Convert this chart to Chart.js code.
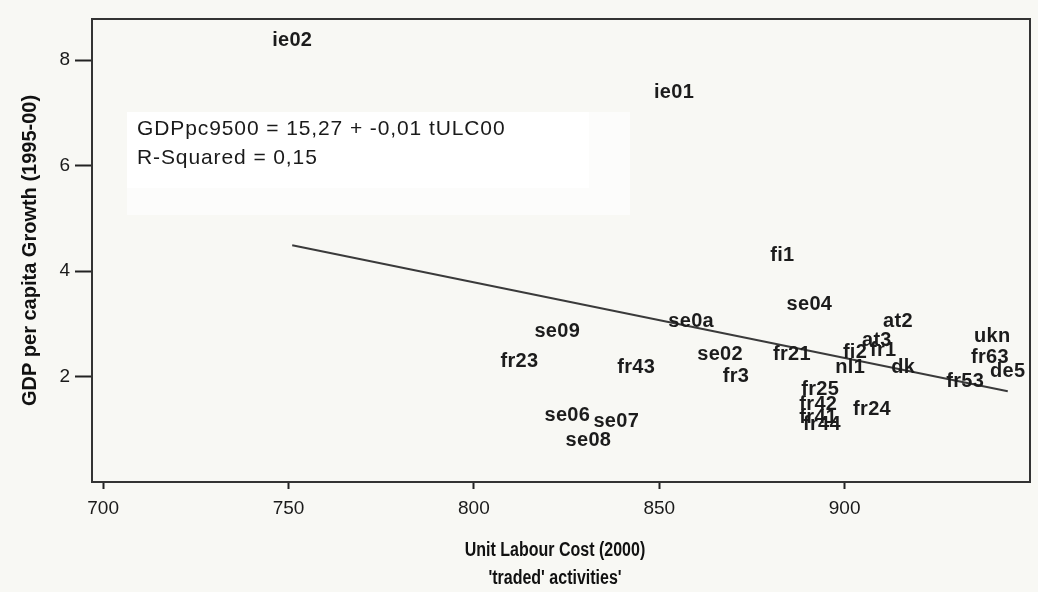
<!DOCTYPE html>
<html>
<head>
<meta charset="utf-8">
<script src="https://cdn.jsdelivr.net/npm/chart.js@4.4.0/dist/chart.umd.min.js"></script>
<style>
  html, body { margin: 0; padding: 0; background: #f8f8f4; }
  #wrap { width: 1038px; height: 592px; }
</style>
</head>
<body>
<div id="wrap"><canvas id="c" width="1038" height="592"></canvas></div>
<script>
// ---- data ----
const categories = ['ie02','ie01','fi1','se04','se0a','se09','fr23','fr43','se02','fr3',
  'se06','se07','se08','fr21','at2','at3','fi2','fr1','nl1','dk','fr53','ukn','fr63','de5',
  'fr25','fr42','fr24','fr41','fr44'];
const ulc = [751, 854, 883.2, 890.5, 858.6, 822.5, 812.3, 843.8, 866.4, 870.7,
  825.2, 838.4, 830.9, 885.8, 914.4, 908.7, 902.8, 910.4, 901.5, 915.8, 932.5, 939.8, 939.2, 944,
  893.4, 892.9, 907.4, 892.9, 893.9];
const gdp = [8.38, 7.39, 4.30, 3.36, 3.05, 2.85, 2.28, 2.17, 2.41, 2.00,
  1.26, 1.14, 0.78, 2.41, 3.04, 2.68, 2.45, 2.49, 2.17, 2.17, 1.90, 2.75, 2.37, 2.09,
  1.75, 1.47, 1.37, 1.22, 1.10];
const fitX = [751, 944];
const fitY = [4.49, 1.72];
const xTickValues = [700, 750, 800, 850, 900];
const yTickValues = [2, 4, 6, 8];
const xTitleLines = ['Unit Labour Cost (2000)', "'traded' activities'"];
const yTitle = 'GDP per capita Growth (1995-00)';
const fitLines = ['GDPpc9500 = 15,27 + -0,01 tULC00', 'R-Squared = 0,15'];

const FONT = "'Liberation Sans', Arial, sans-serif";

const decor = {
  id: 'decor',
  beforeDraw(chart) {
    const ctx = chart.ctx;
    ctx.save();
    ctx.fillStyle = '#f8f8f4';
    ctx.fillRect(0, 0, chart.width, chart.height);
    const a = chart.chartArea;
    // annotation box (SPSS fit line text)
    ctx.fillStyle = '#fcfcfb';
    ctx.fillRect(a.left + 35, a.top + 93, 503, 103);
    ctx.fillStyle = '#ffffff';
    ctx.fillRect(a.left + 35, a.top + 93, 462, 76);
    ctx.fillStyle = '#1a1a1a';
    ctx.font = '21px ' + FONT;
    ctx.letterSpacing = '0.9px';
    ctx.textAlign = 'left';
    ctx.textBaseline = 'middle';
    ctx.fillText(fitLines[0], a.left + 45, a.top + 110);
    ctx.fillText(fitLines[1], a.left + 45, a.top + 139);
    ctx.restore();
  },
  afterDatasetsDraw(chart) {
    const ctx = chart.ctx;
    const a = chart.chartArea;
    ctx.save();
    // point labels
    const meta = chart.getDatasetMeta(0);
    ctx.fillStyle = '#1c1c1c';
    ctx.font = 'bold 20px ' + FONT;
    ctx.letterSpacing = '0.3px';
    ctx.textAlign = 'center';
    ctx.textBaseline = 'middle';
    meta.data.forEach((el, i) => {
      ctx.fillText(categories[i], el.x, el.y);
    });
    ctx.letterSpacing = '0px';
    // plot frame
    ctx.strokeStyle = '#333333';
    ctx.lineWidth = 2;
    ctx.strokeRect(a.left, a.top, a.right - a.left, a.bottom - a.top);
    // axis titles
    ctx.fillStyle = '#111111';
    ctx.font = 'bold 20px ' + FONT;
    ctx.textAlign = 'center';
    ctx.textBaseline = 'middle';
    const cx = (a.left + a.right) / 2;
    ctx.save();
    ctx.translate(cx - 6, 0);
    ctx.scale(0.8, 1);
    ctx.fillText(xTitleLines[0], 0, 550);
    ctx.fillText(xTitleLines[1], 0, 578);
    ctx.restore();
    ctx.translate(30, (a.top + a.bottom) / 2);
    ctx.rotate(-Math.PI / 2);
    ctx.fillText(yTitle, 0, 0);
    ctx.restore();
  }
};

new Chart(document.getElementById('c'), {
  type: 'scatter',
  data: {
    datasets: [
      {
        label: 'regions',
        data: ulc.map((x, i) => ({ x: x, y: gdp[i] })),
        pointRadius: 0,
        pointHoverRadius: 0,
        showLine: false
      },
      {
        type: 'line',
        label: 'fit',
        data: fitX.map((x, i) => ({ x: x, y: fitY[i] })),
        borderColor: '#3a3a3a',
        borderWidth: 2,
        pointRadius: 0,
        fill: false,
        tension: 0
      }
    ]
  },
  options: {
    responsive: false,
    animation: false,
    devicePixelRatio: 1,
    layout: { padding: { left: 0, top: 19, right: 8, bottom: 0 } },
    plugins: { legend: { display: false }, tooltip: { enabled: false } },
    scales: {
      x: {
        type: 'linear',
        min: 697,
        max: 950,
        afterBuildTicks: s => { s.ticks = xTickValues.map(v => ({ value: v })); },
        afterFit: s => { s.height = 110; },
        grid: { drawOnChartArea: false, drawTicks: true, tickLength: 7, tickColor: '#222', tickWidth: 2 },
        border: { display: false },
        ticks: { color: '#1a1a1a', font: { family: FONT, size: 19 }, padding: 8, maxRotation: 0 }
      },
      y: {
        type: 'linear',
        min: 0,
        max: 8.78,
        afterBuildTicks: s => { s.ticks = yTickValues.map(v => ({ value: v })); },
        afterFit: s => { s.width = 92; },
        grid: { drawOnChartArea: false, drawTicks: true, tickLength: 17, tickColor: '#222', tickWidth: 2 },
        border: { display: false },
        ticks: { color: '#1a1a1a', font: { family: FONT, size: 19 }, padding: 5 }
      }
    }
  },
  plugins: [decor]
});
</script>
</body>
</html>
